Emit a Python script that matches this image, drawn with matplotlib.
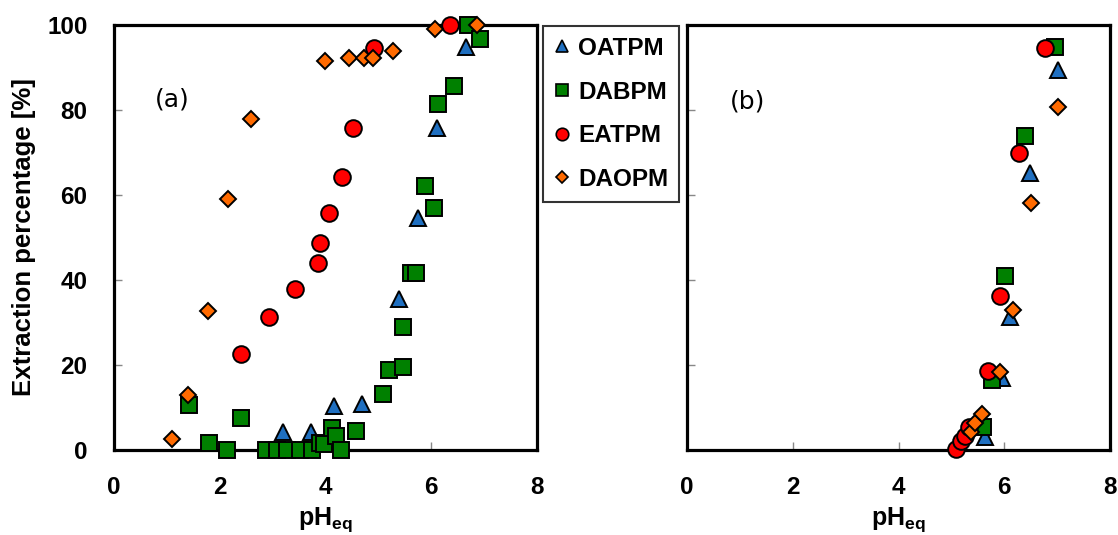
import matplotlib
matplotlib.use("Agg")
import matplotlib.pyplot as plt
from matplotlib.lines import Line2D

plt.rcParams['font.family'] = ['Liberation Sans', 'DejaVu Sans']
plt.rcParams['mathtext.fontset'] = 'custom'
plt.rcParams['mathtext.rm'] = 'Liberation Sans:bold'
plt.rcParams['mathtext.bf'] = 'Liberation Sans:bold'

# ---------------- data ----------------
series_names = ["OATPM", "DABPM", "EATPM", "DAOPM"]

# panel (a)
OATPM_a_x = [3.20, 3.72, 4.17, 4.69, 5.39, 5.74, 6.10, 6.65]
OATPM_a_y = [4.3, 4.3, 10.4, 10.8, 35.5, 54.7, 75.7, 94.9]

DABPM_a_x = [1.42, 1.80, 2.13, 2.41, 2.87, 3.08, 3.28, 3.52, 3.74, 3.89, 3.97,
             4.13, 4.19, 4.29, 4.57, 5.08, 5.20, 5.46, 5.46, 5.61, 5.71, 5.88,
             6.06, 6.13, 6.43, 6.70, 6.92]
DABPM_a_y = [10.6, 1.7, 0.0, 7.5, 0.0, 0.0, 0.0, 0.0, 0.0, 1.6, 1.4,
             5.1, 3.4, 0.0, 4.5, 13.2, 18.8, 19.6, 28.9, 41.6, 41.7, 62.2,
             56.9, 81.3, 85.7, 100.0, 96.7]

EATPM_a_x = [2.41, 2.93, 3.43, 3.86, 3.89, 4.06, 4.32, 4.52, 4.92, 6.35]
EATPM_a_y = [22.5, 31.2, 38.0, 43.9, 48.6, 55.7, 64.2, 75.7, 94.7, 100.0]

DAOPM_a_x = [1.09, 1.40, 1.77, 2.16, 2.60, 3.99, 4.44, 4.73, 4.90, 5.28, 6.07, 6.87]
DAOPM_a_y = [2.6, 12.9, 32.8, 59.1, 78.0, 91.6, 92.2, 92.2, 92.2, 94.0, 99.0, 100.0]

# panel (b)
OATPM_b_x = [5.64, 5.95, 6.11, 6.49, 7.01]
OATPM_b_y = [3.0, 17.0, 31.4, 65.1, 89.4]

DABPM_b_x = [5.60, 5.77, 6.02, 6.39, 6.96]
DABPM_b_y = [5.5, 16.5, 41.0, 73.9, 94.9]

EATPM_b_x = [5.09, 5.18, 5.26, 5.33, 5.70, 5.92, 6.28, 6.78]
EATPM_b_y = [0.2, 2.2, 3.4, 5.3, 18.7, 36.3, 69.8, 94.7]

DAOPM_b_x = [5.37, 5.45, 5.57, 5.92, 6.17, 6.51, 7.01]
DAOPM_b_y = [4.3, 6.3, 8.5, 18.4, 32.9, 58.2, 80.6]

x_ticks = [0, 2, 4, 6, 8]
y_ticks = [0, 20, 40, 60, 80, 100]

# ---------------- styles ----------------
styles = {
    "OATPM": dict(marker="^", color="#1F6FC0", ms=12),
    "DABPM": dict(marker="s", color="#008000", ms=11.5),
    "EATPM": dict(marker="o", color="#FF0000", ms=12),
    "DAOPM": dict(marker="D", color="#FF6A00", ms=8),
}
EW = 1.4

W, H = 1118, 535
fig = plt.figure(figsize=(W / 100, H / 100), dpi=100)
ax_a = fig.add_axes([114 / W, 1 - 450 / H, 423 / W, 425 / H])
ax_b = fig.add_axes([687 / W, 1 - 450 / H, 423 / W, 425 / H])

panel_data = {
    ax_a: [(OATPM_a_x, OATPM_a_y), (DABPM_a_x, DABPM_a_y),
           (EATPM_a_x, EATPM_a_y), (DAOPM_a_x, DAOPM_a_y)],
    ax_b: [(OATPM_b_x, OATPM_b_y), (DABPM_b_x, DABPM_b_y),
           (EATPM_b_x, EATPM_b_y), (DAOPM_b_x, DAOPM_b_y)],
}

for ax, data in panel_data.items():
    for name, (xs, ys) in zip(series_names, data):
        st = styles[name]
        ax.plot(xs, ys, linestyle="none", marker=st["marker"], ms=st["ms"],
                markerfacecolor=st["color"], markeredgecolor="black",
                markeredgewidth=EW, clip_on=False, zorder=3)
    ax.set_xlim(0, 8)
    ax.set_ylim(0, 100)
    ax.set_xticks(x_ticks)
    ax.set_yticks(y_ticks)
    for sp in ax.spines.values():
        sp.set_linewidth(2.3)
        sp.set_color("black")
    ax.tick_params(direction="in", length=6, width=1, color="#888888",
                   labelsize=17.5)
    ax.tick_params(axis="x", pad=19)
    ax.tick_params(axis="y", pad=19)
    for lab in ax.get_xticklabels() + ax.get_yticklabels():
        lab.set_fontweight("bold")
    ax.set_xlabel(r"$\mathbf{pH_{eq}}$", fontsize=18, labelpad=4)

ax_a.set_ylabel("Extraction percentage [%]", fontsize=18.5, fontweight="bold",
                labelpad=8)
ax_b.tick_params(labelleft=False)
ax_b.set_xticklabels([str(t) for t in x_ticks], fontweight="bold")

ax_a.text(0.78, 82.4, "(a)", fontsize=18, family="DejaVu Sans",
          va="center", ha="left")
ax_b.text(0.81, 82.0, "(b)", fontsize=18, family="DejaVu Sans",
          va="center", ha="left")

handles = [Line2D([], [], linestyle="none", marker=styles[n]["marker"],
                  markerfacecolor=styles[n]["color"], markeredgecolor="black",
                  markeredgewidth=1.2, ms=styles[n]["ms"] * 0.75)
           for n in series_names]
leg = fig.legend(handles, series_names, loc="upper left",
                 bbox_to_anchor=(543 / W, 1 - 26 / H),
                 frameon=True, fancybox=False, edgecolor="black",
                 prop=dict(weight="bold", size=17.5), handlelength=0.7,
                 handletextpad=0.3, labelspacing=0.85, borderpad=0.45,
                 borderaxespad=0)
leg.get_frame().set_linewidth(1.5)

fig.savefig("out.png", dpi=100)
